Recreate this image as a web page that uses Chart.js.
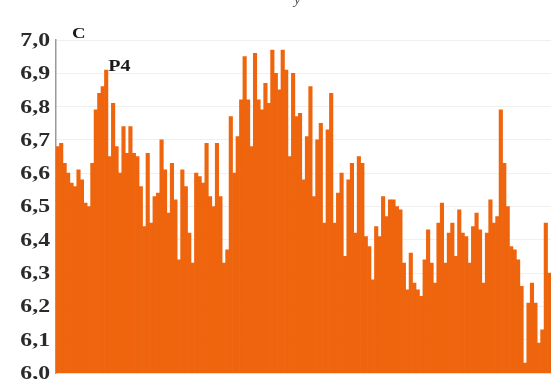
<!DOCTYPE html>
<html>
<head>
<meta charset="utf-8">
<script src="https://cdn.jsdelivr.net/npm/chart.js@4/dist/chart.umd.min.js"></script>
<style>
  html, body { margin: 0; padding: 0; background: #ffffff; }
  #wrap { width: 551px; height: 379px; position: relative; }
</style>
</head>
<body>
<div id="wrap"><canvas id="c" width="551" height="379"></canvas></div>
<script>
// pH readings, one bar per sample
const phValues = [
  6.68, 6.69, 6.63, 6.60, 6.57, 6.56, 6.61, 6.58, 6.51, 6.50, 6.63, 6.79, 6.84, 6.86, 6.91, 6.65,
  6.81, 6.68, 6.60, 6.74, 6.66, 6.74, 6.66, 6.65, 6.56, 6.44, 6.66, 6.45, 6.53, 6.54, 6.70, 6.61,
  6.48, 6.63, 6.52, 6.34, 6.61, 6.56, 6.42, 6.33, 6.60, 6.59, 6.57, 6.69, 6.53, 6.50,
  6.69, 6.53, 6.33, 6.37, 6.77, 6.60, 6.71, 6.82, 6.95, 6.82, 6.68, 6.96, 6.82, 6.79, 6.87, 6.81,
  6.97, 6.90, 6.85, 6.97, 6.91, 6.65, 6.90, 6.77, 6.78, 6.58, 6.71, 6.86, 6.53, 6.70, 6.75, 6.45,
  6.73, 6.84, 6.45, 6.54, 6.60, 6.35, 6.58, 6.63, 6.42, 6.65, 6.63, 6.41, 6.38, 6.28, 6.44, 6.41,
  6.53, 6.47, 6.52,
  6.52, 6.50, 6.49, 6.33, 6.25, 6.36, 6.27, 6.25, 6.23, 6.34, 6.43, 6.33, 6.27, 6.45, 6.51, 6.33,
  6.42, 6.45, 6.35, 6.49, 6.42, 6.41, 6.33, 6.44, 6.48, 6.43, 6.27, 6.42, 6.52, 6.45, 6.47, 6.79,
  6.63, 6.50, 6.38, 6.37, 6.34, 6.26, 6.03, 6.21, 6.27, 6.21, 6.09, 6.13, 6.45, 6.30
];
const sampleLabels = phValues.map((_, i) => String(i + 1));
const yTicks = [6.0, 6.1, 6.2, 6.3, 6.4, 6.5, 6.6, 6.7, 6.8, 6.9, 7.0];
const panelLetter = 'C';
const peakLabel = 'P4';
const peakIndex = 14;

const SERIF = '"Liberation Serif", "DejaVu Serif", serif';
const STRETCH = 1.25; // wide serif lettering

// draws text widened horizontally around its left/right anchor
function wideText(ctx, text, x, y, align) {
  ctx.save();
  ctx.translate(x, y);
  ctx.scale(STRETCH, 1);
  ctx.textAlign = align;
  ctx.fillText(text, 0, 0);
  ctx.restore();
}

// y tick labels, panel letter, peak marker and the clipped heading above
const textPlugin = {
  id: 'panelText',
  afterDatasetsDraw(chart) {
    const { ctx, scales } = chart;
    ctx.save();
    ctx.fillStyle = '#2a2a2a';
    ctx.textBaseline = 'middle';
    ctx.font = 'bold 19px ' + SERIF;
    const right = scales.y.right - 6;
    yTicks.forEach(v => {
      const y = scales.y.getPixelForValue(v);
      wideText(ctx, v.toFixed(1).replace('.', ','), right, y + 1, 'right');
    });
    ctx.fillStyle = '#1a1a1a';
    ctx.textBaseline = 'alphabetic';
    ctx.font = 'bold 15px ' + SERIF;
    wideText(ctx, panelLetter, 72, 38, 'left');
    const px = scales.x.getPixelForValue(peakIndex);
    const py = scales.y.getPixelForValue(phValues[peakIndex]);
    ctx.font = 'bold 16px ' + SERIF;
    wideText(ctx, peakLabel, px + 2, py + 1, 'left');
    ctx.font = 'italic 15px ' + SERIF;
    ctx.fillStyle = '#555';
    ctx.fillText('y', 294, 4);
    ctx.restore();
  }
};

new Chart(document.getElementById('c'), {
  type: 'bar',
  data: {
    labels: sampleLabels,
    datasets: [{
      data: phValues,
      backgroundColor: '#EF650E',
      borderWidth: 0,
      barPercentage: 1.0,
      categoryPercentage: 1.0
    }]
  },
  options: {
    responsive: false,
    animation: false,
    layout: { padding: { top: 40, right: 0, bottom: 6, left: 0 } },
    plugins: { legend: { display: false }, tooltip: { enabled: false } },
    scales: {
      x: {
        ticks: { display: false },
        grid: { display: false },
        border: { display: true, color: '#cfe6ee', width: 2 },
        afterFit(s) { s.height = 0; }
      },
      y: {
        min: 6.0,
        max: 7.0,
        afterBuildTicks(s) { s.ticks = yTicks.map(v => ({ value: v })); },
        ticks: { display: false },
        grid: { color: 'rgba(0,0,0,0.06)', drawTicks: false },
        border: { display: true, color: '#9a9a9a', width: 1.5 },
        afterFit(s) { s.width = 56; }
      }
    }
  },
  plugins: [textPlugin]
});
</script>
</body>
</html>
